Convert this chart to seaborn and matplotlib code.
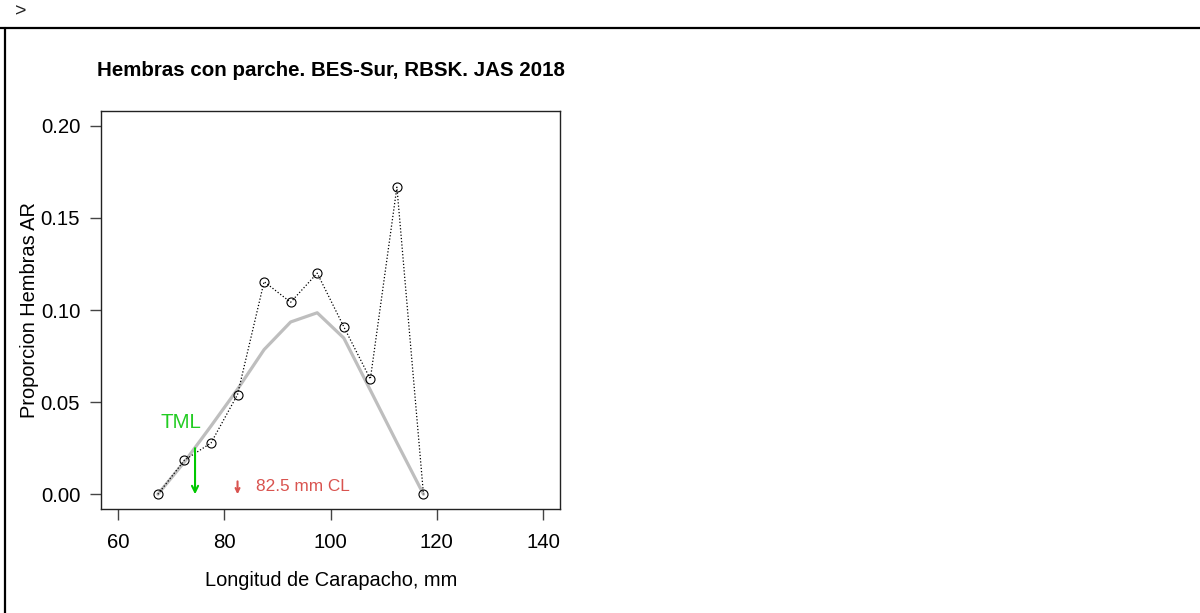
import matplotlib
matplotlib.use("Agg")
import matplotlib.pyplot as plt
from matplotlib.lines import Line2D
import seaborn as sns
import pandas as pd

# ---- data ----
talla = [67.5, 72.5, 77.5, 82.5, 87.5, 92.5, 97.5, 102.5, 107.5, 112.5, 117.5]
prop_obs = [0.0, 0.0185, 0.0278, 0.0541, 0.1154, 0.1042, 0.1200, 0.0909, 0.0625, 0.1667, 0.0]
prop_suav = [0.0, 0.0175, 0.0370, 0.0570, 0.0785, 0.0935, 0.0985, 0.0848, 0.0565, 0.0280, 0.0]
x_ticks = [60, 80, 100, 120, 140]
y_ticks = [0.00, 0.05, 0.10, 0.15, 0.20]
y_tick_labels = ["0.00", "0.05", "0.10", "0.15", "0.20"]
tml_x = 74.5
tml_y = 0.025
cl_x = 82.5

title = "Hembras con parche. BES-Sur, RBSK. JAS 2018"
xlabel = "Longitud de Carapacho, mm"
ylabel = "Proporcion Hembras AR"

df = pd.DataFrame({"talla": talla, "obs": prop_obs, "suav": prop_suav})

sns.set_style("white")
plt.rcParams["font.family"] = ["Liberation Sans", "DejaVu Sans"]
plt.rcParams["text.color"] = "black"

W, H = 1200, 613
fig = plt.figure(figsize=(W / 100, H / 100), dpi=100)
ax = fig.add_axes([101 / W, 1 - 509 / H, (560 - 101) / W, (509 - 111) / H])

sns.lineplot(data=df, x="talla", y="suav", ax=ax, color="#BEBEBE", linewidth=2.3,
             estimator=None, sort=False)
sns.lineplot(data=df, x="talla", y="obs", ax=ax, color="black", linewidth=0.9,
             linestyle=(0, (1, 1.6)), estimator=None, sort=False,
             marker="o", markersize=6.5, markerfacecolor="none",
             markeredgecolor="black", markeredgewidth=0.8)

# annotations
ax.annotate("", xy=(tml_x, 0.0), xytext=(tml_x, tml_y),
            arrowprops=dict(arrowstyle="->", color="#00C800", lw=1.5,
                            mutation_scale=11, shrinkA=0, shrinkB=0))
ax.text(71.9, 0.039, "TML", color="#22CC22", fontsize=14.8, ha="center", va="center")
ax.annotate("", xy=(cl_x, 0.0), xytext=(cl_x, 0.007),
            arrowprops=dict(arrowstyle="->", color="#D9534F", lw=1.5,
                            mutation_scale=7, shrinkA=0, shrinkB=0))
ax.text(86.0, 0.0042, "82.5 mm CL", color="#D9534F", fontsize=12.4, ha="left", va="center")

ax.set_xlim(56.8, 143.2)
ax.set_ylim(-0.008, 0.208)
ax.set_xticks(x_ticks)
ax.set_yticks(y_ticks)
ax.set_yticklabels(y_tick_labels)
ax.set_xlabel("")
ax.set_ylabel("")
ax.tick_params(axis="both", direction="out", length=8, width=1, color="#444444",
               labelsize=14.7, labelcolor="black", left=True, bottom=True)
ax.tick_params(axis="x", pad=9)
ax.tick_params(axis="y", pad=7)
for s in ax.spines.values():
    s.set_visible(True)
    s.set_color("#222222")
    s.set_linewidth(1.0)

fig.text(331 / W, 1 - 71 / H, title, fontsize=14.8, fontweight="bold", ha="center", va="center")
fig.text(331 / W, 1 - 580 / H, xlabel, fontsize=14.4, ha="center", va="center")
fig.text(30 / W, 1 - 310 / H, ylabel, fontsize=14.4, ha="center", va="center", rotation=90)

# surrounding console frame
fig.text(21 / W, 1 - 12 / H, ">", fontsize=14, ha="center", va="center", color="#222222")
fig.add_artist(Line2D([0, 1], [1 - 28 / H, 1 - 28 / H], color="black", lw=1.6))
fig.add_artist(Line2D([4.5 / W, 4.5 / W], [0, 1 - 28 / H], color="black", lw=1.6))

fig.savefig("out.png", dpi=100)
